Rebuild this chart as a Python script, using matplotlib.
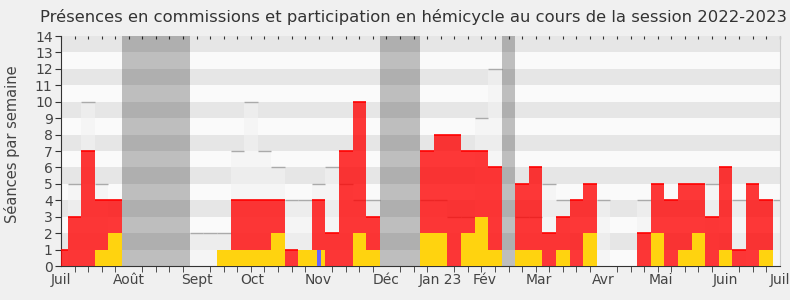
import matplotlib
matplotlib.use("Agg")
import matplotlib.pyplot as plt
import numpy as np

# one entry per week, from the first week of July 2022
semaines = np.arange(54)
hemicycle = [0, 0, 0, 1, 2, 0, 0, 0, 0, 0, 0, 0, 1, 1, 1, 1, 2, 0, 1, 1,
             0, 0, 2, 1, 0, 0, 0, 2, 2, 0, 2, 3, 1, 0, 1, 1, 0, 1, 0, 2,
             0, 0, 0, 0, 2, 0, 1, 2, 0, 1, 0, 0, 1, 0]
commission = [1, 3, 7, 3, 2, 0, 0, 0, 0, 0, 0, 0, 0, 3, 3, 3, 2, 1, 0, 3,
              2, 7, 8, 2, 0, 0, 0, 5, 6, 8, 5, 4, 5, 0, 4, 5, 2, 2, 4, 3,
              0, 0, 0, 2, 3, 4, 4, 3, 3, 5, 1, 5, 3, 0]
seances = [0, 5, 10, 5, 0, 0, 0, 0, 0, 0, 2, 2, 2, 7, 10, 7, 6, 4, 4, 5,
           6, 5, 4, 4, 0, 0, 0, 4, 4, 3, 3, 9, 12, 0, 3, 3, 5, 4, 0, 0,
           4, 0, 0, 4, 0, 0, 0, 0, 5, 0, 4, 0, 0, 4]
questions = [0] * 54
questions[19] = 1
vacances = [5, 6, 7, 8, 9, 24, 25, 26, 33]
mois = ['Juil', 'Août', 'Sept', 'Oct', 'Nov', 'Déc', 'Jan 23', 'Fév',
        'Mar', 'Avr', 'Mai', 'Juin', 'Juil']
mois_semaine = [0, 5, 10, 14.1, 19, 24, 28, 31.25, 35.2, 40, 44.2, 49, 53]

hemicycle = np.array(hemicycle)
commission = np.array(commission)
seances = np.array(seances)

fig = plt.figure(figsize=(7.9, 3.0), dpi=100, facecolor='#f0f0f0')
ax = fig.add_axes([0.0772, 0.1133, 0.9098, 0.7667])
ax.set_facecolor('#fafafa')

# alternate grey stripes
for k in range(1, 14, 2):
    ax.axhspan(k, k + 1, color='#e6e6e6', lw=0, zorder=0)

# total sessions of the week (light bars)
ax.bar(semaines, seances, width=1, color='#f3f3f3', alpha=0.6, lw=0, zorder=1)
m = seances > 0
ax.hlines(seances[m], semaines[m] - 0.5, semaines[m] + 0.5, color='#aaaaaa', lw=1, zorder=1.5)

# holidays
groupes = []
for v in vacances:
    if groupes and v == groupes[-1][1] + 1:
        groupes[-1][1] = v
    else:
        groupes.append([v, v])
for a, b in groupes:
    ax.axvspan(a - 0.5, b + 0.5, color='black', alpha=0.24, lw=0, zorder=2)

ax.bar(semaines, hemicycle, width=1, color='#ffd30f', lw=0, zorder=3)
ax.bar(semaines, commission, bottom=hemicycle, width=1, color='#ff0000', alpha=0.78, lw=0, zorder=3)
m = commission > 0
ax.hlines((hemicycle + commission)[m], semaines[m] - 0.5, semaines[m] + 0.5, color='#ff0000', lw=1.2, zorder=4)
ax.bar(semaines, questions, width=0.3, color='#6464ff', lw=0, zorder=5)

ax.set_xlim(0, 53)
ax.set_ylim(0, 14)
ax.set_yticks(range(15))
ax.set_xticks(semaines, minor=True)
ax.set_xticks(mois_semaine, mois)
ax.tick_params(axis='x', which='major', length=0, pad=5, labelsize=10, labelcolor='#444444')
ax.tick_params(axis='x', which='minor', length=4, color='#333333')
ax.tick_params(axis='y', length=4, color='#333333', labelsize=10, labelcolor='#444444', pad=2)

top = ax.secondary_xaxis('top')
top.set_xticks(semaines, labels=[])
top.tick_params(direction='in', length=2, color='#333333')
top.spines['top'].set_visible(False)

ax.spines['top'].set_visible(False)
ax.spines['right'].set_color('#cccccc')
ax.spines['left'].set_color('#333333')
ax.spines['bottom'].set_color('#333333')

ax.set_ylabel('Séances par semaine', fontsize=10.5, color='#444444')
ax.yaxis.set_label_coords(-0.057, 0.53)
fig.text(0.523, 0.943, 'Présences en commissions et participation en hémicycle au cours de la session 2022-2023',
         ha='center', va='center', fontsize=11.8, color='#333333')

fig.savefig('out.png', dpi=100, facecolor=fig.get_facecolor())
